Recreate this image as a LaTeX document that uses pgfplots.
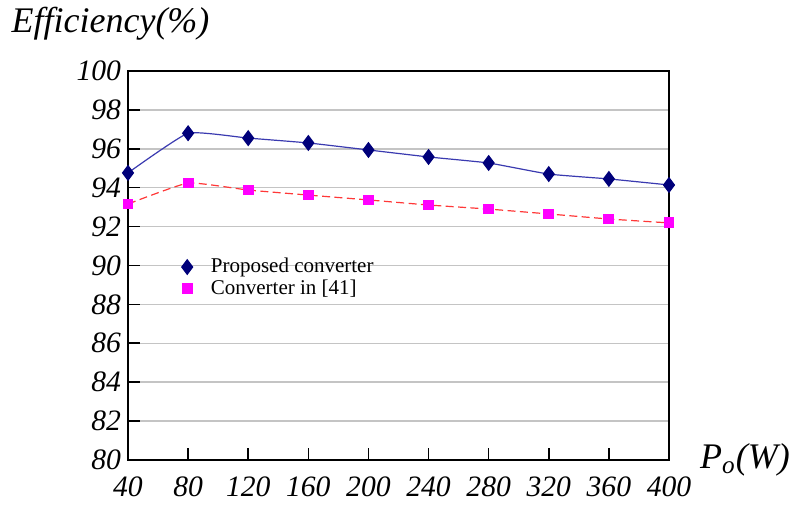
\documentclass[border=0pt]{standalone}
\usepackage{pgfplots}
\pgfplotsset{compat=1.18}
\usepackage{fontspec}
\setmainfont{Liberation Serif}

\definecolor{propline}{HTML}{3A3AB0}
\definecolor{propmark}{HTML}{00007A}
\definecolor{refline}{HTML}{FF3838}
\definecolor{refmark}{HTML}{FF00FF}
\definecolor{gridgray}{HTML}{C4C4C4}

\begin{document}
\begin{tikzpicture}
\useasboundingbox (0,0) rectangle (400pt,256.5pt);
\begin{axis}[
  at={(64pt,26.5pt)}, anchor=south west,
  scale only axis, width=270.5pt, height=194.5pt,
  xmin=40, xmax=400, ymin=80, ymax=100,
  xtick={40,80,...,400}, ytick={80,82,...,100},
  axis line style={line width=1.35pt},
  tick style={black, line width=0.8pt},
  major tick length=6pt,
  tick align=inside,
  xtick pos=bottom, ytick pos=left,
  ymajorgrids, grid style={gridgray, line width=0.75pt},
  /pgf/number format/assume math mode=true,
  tick label style={font=\fontsize{14.8}{16}\selectfont\itshape},
  xticklabel style={yshift=-5pt},
  ylabel={Efficiency(\%)},
  ylabel style={rotate=-90, anchor=west, at={(rel axis cs:-0.216,1.121)},
    font=\fontsize{18}{20}\selectfont\itshape, inner sep=0pt},
  xlabel={P\textsubscript{o}(W)},
  xlabel style={anchor=west, at={(rel axis cs:1.057,0.0)},
    font=\fontsize{18}{20}\selectfont\itshape, inner sep=0pt},
  legend style={draw=none, fill=none, at={(0.085,0.535)}, anchor=north west,
    font=\fontsize{10.5}{12}\selectfont, row sep=0pt,
    nodes={inner sep=1pt}},
  legend cell align=left,
  clip=false,
]
\addplot+[smooth, tension=0.25, propline, line width=0.6pt, solid,
  mark=diamond*, mark size=3.6pt,
  mark options={solid, fill=propmark, draw=propmark},
  legend image code/.code={%
    \path[draw=none, fill=none] (0cm,-0.01cm) rectangle (0.5cm,0.01cm);
    \draw[solid, mark=diamond*, mark size=3.6pt, fill=propmark, draw=propmark]
      plot coordinates {(0.12cm,0cm)};}]
  coordinates {
  (40,94.76) (80,96.80) (120,96.55) (160,96.30) (200,95.94)
  (240,95.58) (280,95.27) (320,94.70) (360,94.45) (400,94.14)};
\addlegendentry{Proposed converter}
\addplot+[smooth, tension=0.25, refline, line width=0.6pt,
  dash pattern=on 4pt off 2.2pt,
  mark=square*, mark size=2.4pt,
  mark options={solid, fill=refmark, draw=refmark},
  legend image code/.code={%
    \path[draw=none, fill=none] (0cm,-0.01cm) rectangle (0.5cm,0.01cm);
    \draw[solid, mark=square*, mark size=2.4pt, fill=refmark, draw=refmark]
      plot coordinates {(0.12cm,0cm)};}]
  coordinates {
  (40,93.16) (80,94.24) (120,93.88) (160,93.62) (200,93.37)
  (240,93.11) (280,92.90) (320,92.65) (360,92.39) (400,92.19)};
\addlegendentry{Converter in [41]}
\end{axis}
\end{tikzpicture}
\end{document}
